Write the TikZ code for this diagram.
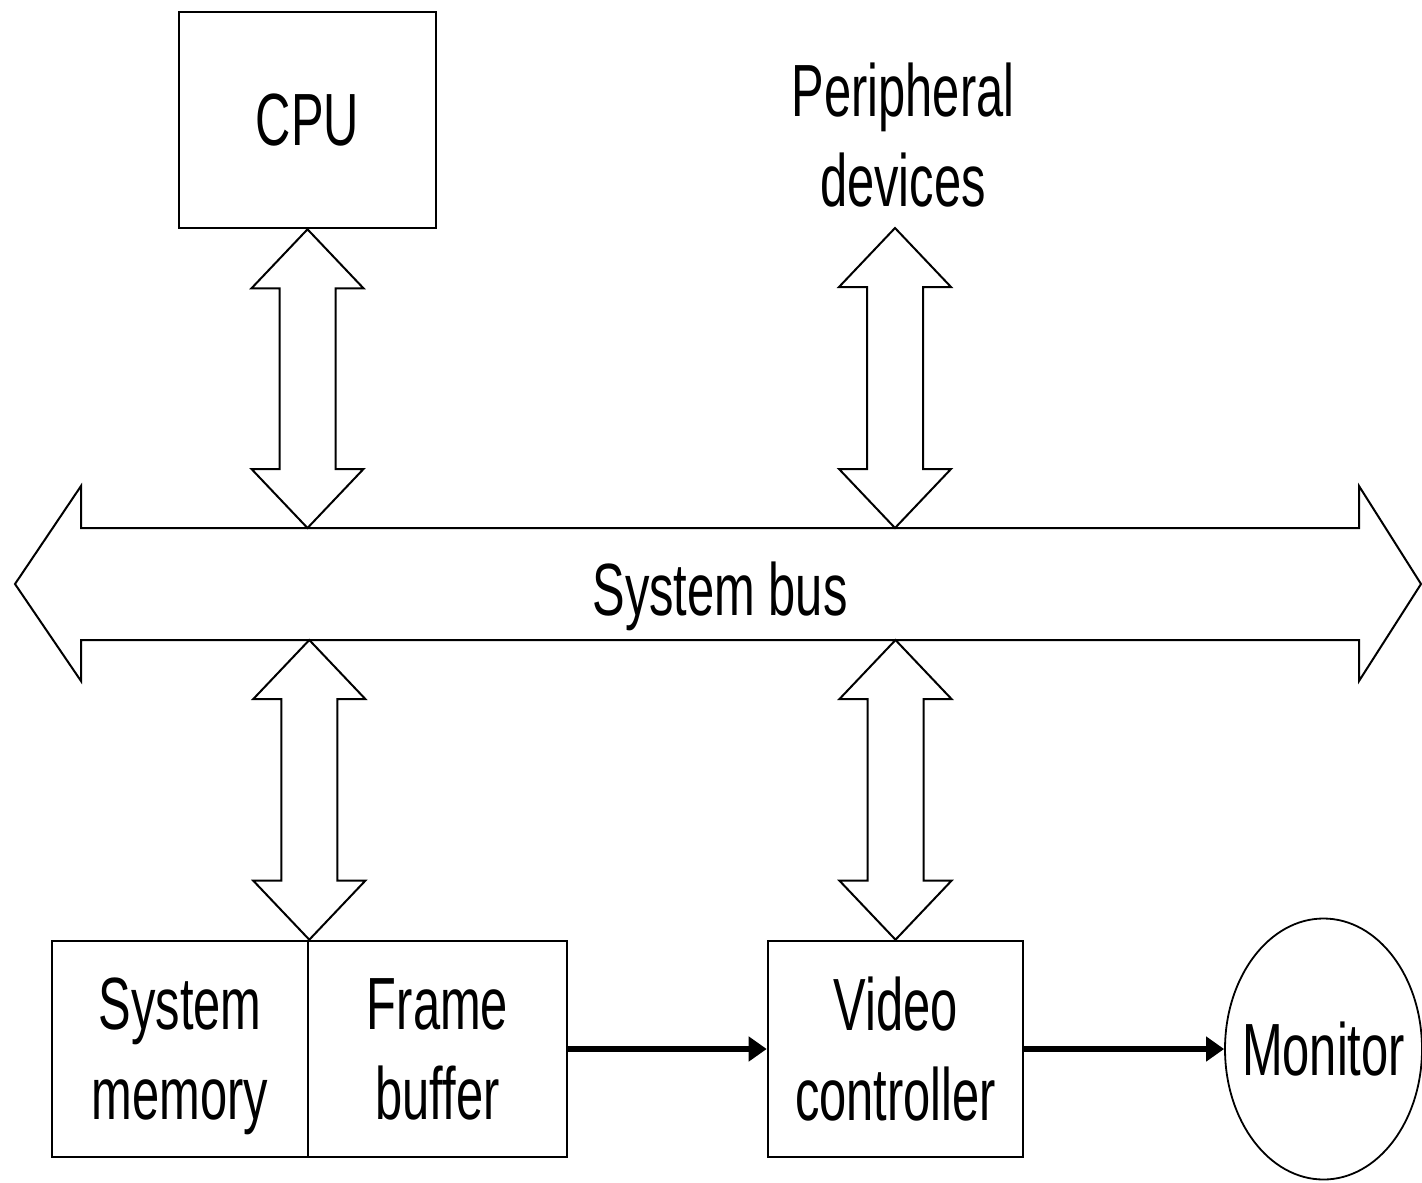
\documentclass[tikz,border=0pt]{standalone}
\usepackage{fontspec}
\setmainfont{Liberation Sans}[FakeStretch=0.66]
\usetikzlibrary{shapes.geometric,arrows.meta,calc}
\tikzset{
  lbl/.style={font=\fontsize{37}{45}\selectfont, align=center, inner sep=0pt},
  boxn/.style={lbl, draw, line width=1.3pt, rectangle},
  blk/.style={draw, line width=1pt, fill=white, line join=miter},
  flow/.style={line width=3pt, -{Triangle[length=9pt,width=12pt]}}
}
% block double arrow from top point #1 down to bottom point #2
\newcommand{\blockarrow}[2]{%
  \draw[blk] (#1) -- ++(56,59) -- ++(-28,0) -- ($(#2)+(28,-59)$) -- ++(28,0)
    -- (#2) -- ++(-56,-59) -- ++(28,0) -- ($(#1)+(-28,59)$) -- ++(-28,0) -- cycle;}
\begin{document}
\begin{tikzpicture}[x=0.5pt,y=-0.5pt]
\useasboundingbox (0,0) rectangle (1422,1182);
\fill[white] (0,0) rectangle (1422,1182);
% bus shape
\draw[blk] (15,584) -- (81,486) -- (81,528) -- (1359,528) -- (1359,486) -- (1421,584)
  -- (1359,681) -- (1359,640) -- (81,640) -- (81,681) -- cycle;
\node[lbl] (bus) at (720,596) {System bus};
\coordinate (busN) at (720,528);
\coordinate (busS) at (720,640);
% top
\node[boxn, minimum width=128.5pt, minimum height=108pt, text depth=0pt] (cpu) at (307.5,120) {CPU};
\node[lbl] (per) at (903,135) {Peripheral\\devices};
\coordinate (perT) at (895,228);
% bottom
\node[boxn, minimum width=128pt, minimum height=108pt, text depth=0pt] (mem) at (180,1049) {System\\memory};
\node[boxn, minimum width=129.5pt, minimum height=108pt] (fb) at (437.5,1049) {Frame\\buffer};
\node[boxn, minimum width=127.5pt, minimum height=108pt] (vc) at (895.5,1049) {Video\\controller};
\node[lbl, draw, ellipse, line width=0.9pt, inner xsep=-8pt, minimum width=98.5pt, minimum height=130.5pt] (mon) at (1323.5,1049) {Monitor};
% vertical block arrows
\blockarrow{cpu.south}{cpu.south |- busN}
\blockarrow{perT}{perT |- busN}
\blockarrow{mem.north east |- busS}{mem.north east}
\blockarrow{vc.north |- busS}{vc.north}
% flow arrows
\draw[flow] (fb.east) -- (fb.east -| vc.west);
\draw[flow] (vc.east) -- (vc.east -| mon.west);
\end{tikzpicture}
\end{document}
